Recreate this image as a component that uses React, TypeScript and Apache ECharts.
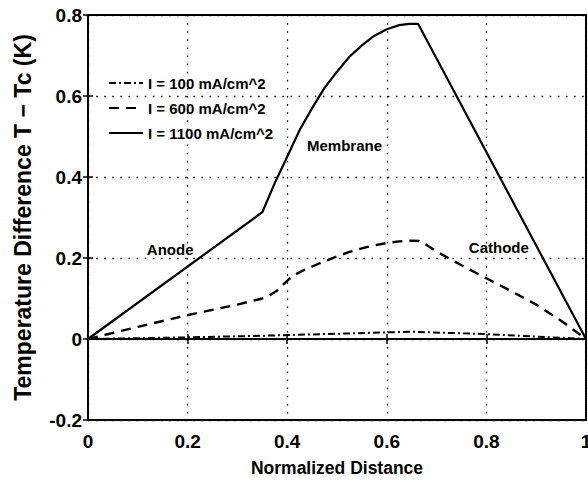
import React, { useEffect, useRef } from "react";
import * as echarts from "echarts";

const FONT = '"Liberation Sans", Arial, Helvetica, sans-serif';

const seriesNames = ["I = 100 mA/cm^2", "I = 600 mA/cm^2", "I = 1100 mA/cm^2"];

// [normalized distance, temperature difference]
const data100: [number, number][] = [
  [0, 0], [0.1, 0.002], [0.2, 0.004], [0.35, 0.008], [0.5, 0.013], [0.65, 0.018],
  [0.8, 0.012], [0.9, 0.006], [1, 0],
];
const data600: [number, number][] = [
  [0, 0], [0.1, 0.03], [0.2, 0.059], [0.3, 0.085], [0.35, 0.1], [0.365, 0.108],
  [0.38, 0.12], [0.395, 0.138], [0.41, 0.155], [0.43, 0.168], [0.45, 0.179],
  [0.475, 0.192], [0.5, 0.204], [0.525, 0.215], [0.55, 0.224], [0.575, 0.231],
  [0.6, 0.237], [0.625, 0.241], [0.65, 0.243], [0.665, 0.242], [0.68, 0.232],
  [0.7, 0.216], [0.75, 0.182], [0.8, 0.15], [0.85, 0.118], [0.9, 0.085],
  [0.95, 0.045], [1, 0],
];
const data1100: [number, number][] = [
  [0, 0], [0.35, 0.313], [0.375, 0.385], [0.4, 0.45], [0.425, 0.516], [0.45, 0.57],
  [0.475, 0.62], [0.5, 0.66], [0.525, 0.697], [0.55, 0.725], [0.575, 0.749],
  [0.6, 0.765], [0.625, 0.775], [0.645, 0.778], [0.663, 0.778], [1, 0],
];

const xTicks = { min: 0, max: 1, interval: 0.2 };
const yTicks = { min: -0.2, max: 0.8, interval: 0.2 };

const regionLabels = [
  { text: "Anode", x: 0.165, y: 0.22 },
  { text: "Membrane", x: 0.515, y: 0.478 },
  { text: "Cathode", x: 0.825, y: 0.225 },
];

export default function App() {
  const ref = useRef<HTMLDivElement>(null);
  useEffect(() => {
    if (!ref.current) return;
    const chart = echarts.init(ref.current, undefined, { renderer: "svg" });
    const grid = { left: 88, right: 2, top: 15, bottom: 65 };
    const splitLine = {
      show: true,
      lineStyle: { color: "#000", width: 1.3, type: [1.6, 6.5] as any },
    };
    const tick = { show: true, inside: true, length: 5, lineStyle: { color: "#000", width: 1.5 } };
    const lineCommon = {
      type: "line" as const,
      symbol: "none",
      smooth: false,
      animation: false,
      color: "#000",
    };
    chart.setOption({
      animation: false,
      backgroundColor: "#fff",
      textStyle: { fontFamily: FONT },
      grid: { ...grid, show: true, borderColor: "#000", borderWidth: 2, outerBoundsMode: "none", containLabel: false },
      legend: {
        orient: "vertical",
        left: 103,
        top: 69,
        itemWidth: 34,
        itemHeight: 14,
        itemGap: 7,
        data: seriesNames,
        itemStyle: { opacity: 0 },
        textStyle: { fontFamily: FONT, fontSize: 15, fontWeight: "bold", color: "#000", lineHeight: 18 },
        inactiveColor: "#000",
        selectedMode: false,
      },
      xAxis: [
        {
          type: "value",
          ...xTicks,
          name: "Normalized Distance",
          nameLocation: "middle",
          nameGap: 39,
          nameTextStyle: { fontFamily: FONT, fontSize: 17.5, fontWeight: "bold", color: "#000" },
          axisLine: { show: true, lineStyle: { color: "#000", width: 2 } },
          axisTick: tick,
          axisLabel: {
            fontFamily: FONT, fontSize: 19, fontWeight: "bold", color: "#000", margin: 12,
            showMinLabel: true, showMaxLabel: true,
          },
          splitLine,
        },
        {
          type: "value",
          ...xTicks,
          position: "top",
          axisLine: { show: false },
          axisTick: tick,
          axisLabel: { show: false },
          splitLine: { show: false },
        },
      ],
      yAxis: [
        {
          type: "value",
          ...yTicks,
          name: "Temperature Difference T \u2212 Tc (K)",
          nameLocation: "middle",
          nameGap: 54,
          nameTextStyle: { fontFamily: FONT, fontSize: 23, fontWeight: "bold", color: "#000" },
          axisLine: { show: true, lineStyle: { color: "#000", width: 2 } },
          axisTick: tick,
          axisLabel: {
            fontFamily: FONT, fontSize: 19, fontWeight: "bold", color: "#000", margin: 6,
            showMinLabel: true, showMaxLabel: true,
          },
          splitLine,
        },
        {
          type: "value",
          ...yTicks,
          position: "right",
          axisLine: { show: false },
          axisTick: tick,
          axisLabel: { show: false },
          splitLine: { show: false },
        },
      ],
      series: [
        {
          ...lineCommon,
          name: seriesNames[0],
          data: data100,
          lineStyle: { color: "#000", width: 2, type: [7, 3, 2, 3] as any },
        },
        {
          ...lineCommon,
          name: seriesNames[1],
          data: data600,
          lineStyle: { color: "#000", width: 2.4, type: [10, 7] as any },
        },
        {
          ...lineCommon,
          name: seriesNames[2],
          data: data1100,
          lineStyle: { color: "#000", width: 2.2, type: "solid" },
          markPoint: {
            symbol: "circle",
            symbolSize: 0,
            silent: true,
            data: regionLabels.map((r) => ({
              coord: [r.x, r.y],
              label: {
                show: true,
                formatter: r.text,
                position: "inside",
                fontFamily: FONT,
                fontSize: 15,
                fontWeight: "bold",
                color: "#000",
              },
            })),
          },
        },
      ],
    });
    return () => chart.dispose();
  }, []);
  return <div ref={ref} style={{ width: 588, height: 485, position: "absolute", left: 0, top: 0 }} />;
}
